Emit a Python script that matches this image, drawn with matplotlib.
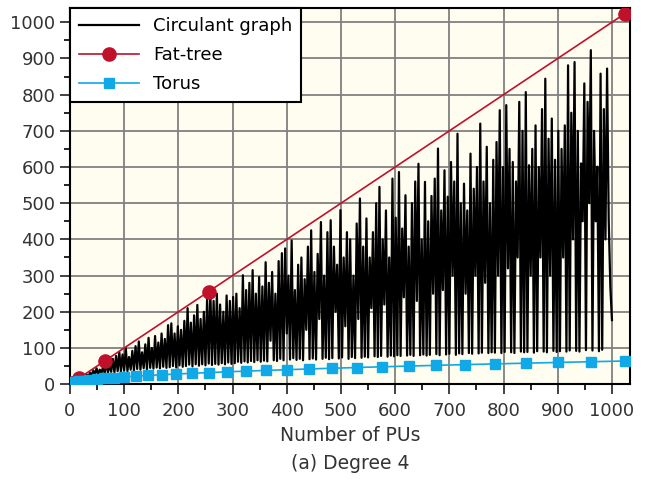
import numpy as np
import matplotlib
matplotlib.use("Agg")
import matplotlib.pyplot as plt
from matplotlib.ticker import MultipleLocator

# circulant graph values, every 3 PUs (4 .. 1000)
circ_n = list(range(4, 1001, 3))
circ_v = [
    4, 10, 6, 14, 9, 18, 12, 22, 15, 26,
    20, 32, 24, 38, 26, 44, 28, 40, 30, 48,
    30, 62, 32, 55, 34, 70, 33, 78, 36, 89,
    35, 82, 38, 99, 36, 75, 40, 92, 38, 105,
    42, 118, 40, 88, 44, 110, 41, 128, 45, 100,
    43, 133, 46, 115, 44, 140, 48, 125, 45, 163,
    47, 168, 50, 140, 46, 160, 52, 150, 48, 175,
    50, 210, 54, 170, 49, 190, 55, 219, 51, 180,
    55, 200, 52, 235, 57, 260, 53, 230, 56, 250,
    54, 220, 58, 200, 55, 245, 60, 230, 56, 241,
    58, 250, 62, 210, 59, 301, 63, 260, 60, 280,
    64, 315, 61, 250, 66, 296, 62, 270, 65, 337,
    63, 280, 120, 310, 66, 250, 64, 340, 70, 362,
    66, 375, 140, 300, 68, 397, 72, 260, 67, 330,
    70, 350, 66, 290, 150, 380, 69, 425, 71, 310,
    68, 360, 180, 448, 70, 300, 73, 420, 69, 453,
    72, 380, 200, 330, 71, 481, 74, 350, 160, 420,
    70, 400, 75, 300, 72, 444, 180, 513, 73, 380,
    76, 458, 74, 350, 210, 420, 77, 500, 75, 545,
    78, 400, 220, 480, 76, 350, 79, 568, 77, 460,
    80, 586, 78, 430, 240, 522, 79, 380, 81, 500,
    78, 560, 230, 609, 80, 400, 82, 559, 79, 450,
    81, 520, 250, 568, 83, 651, 80, 480, 260, 591,
    82, 518, 84, 614, 300, 560, 81, 692, 85, 500,
    83, 554, 250, 480, 86, 637, 84, 540, 300, 600,
    85, 720, 87, 560, 280, 656, 86, 500, 88, 620,
    87, 669, 300, 757, 86, 600, 89, 771, 320, 650,
    88, 614, 86, 560, 350, 780, 90, 700, 88, 807,
    89, 605, 300, 650, 87, 715, 91, 600, 350, 760,
    90, 844, 88, 678, 300, 734, 92, 620, 89, 700,
    91, 650, 350, 715, 90, 881, 93, 750, 400, 890,
    92, 700, 90, 610, 450, 831, 94, 780, 500, 923,
    93, 700, 450, 601, 91, 858, 95, 760, 400, 872,
    453, 270, 177,
]

# fat-tree sizes (4^k)
fat_n = [4, 16, 64, 256, 1024]
fat_v = [4, 16, 64, 256, 1024]

# torus k x k
torus_k = list(range(2, 33))
torus_n = [k * k for k in torus_k]
torus_v = [2 * k for k in torus_k]

fig = plt.figure(figsize=(6.45, 4.79), dpi=100)
ax = fig.add_axes([0.1085, 0.198, 0.868, 0.785])
ax.set_facecolor("#fffdf0")

ax.plot(circ_n, circ_v, color="black", lw=1.6, label="Circulant graph", zorder=3)
ax.plot(fat_n, fat_v, color="#c0112b", lw=1.2, marker="o", ms=9.5,
        label="Fat-tree", zorder=4)
ax.plot(torus_n, torus_v, color="#10a8e6", lw=1.2, marker="s", ms=7,
        label="Torus", zorder=5)

ax.set_xlim(0, 1033)
ax.set_ylim(0, 1039)
ax.xaxis.set_major_locator(MultipleLocator(100))
ax.xaxis.set_minor_locator(MultipleLocator(50))
ax.yaxis.set_major_locator(MultipleLocator(100))
ax.yaxis.set_minor_locator(MultipleLocator(50))
ax.grid(True, which="major", color="#808080", lw=1.3, zorder=0)
ax.tick_params(which="major", direction="out", length=7, width=1.3,
               labelsize=13, colors="#333333")
ax.tick_params(axis="x", which="major", pad=6)
ax.tick_params(which="minor", direction="out", length=4, width=1.2)
for s in ax.spines.values():
    s.set_linewidth(1.5)
    s.set_color("black")

ax.set_xlabel("Number of PUs\n(a) Degree 4", fontsize=13.5, color="#333333",
              linespacing=1.6, labelpad=4)

leg = ax.legend(loc="upper left", fontsize=13, fancybox=False, framealpha=1,
                edgecolor="black", borderaxespad=0, handlelength=3.3,
                borderpad=0.5, labelspacing=0.6)
leg.get_frame().set_linewidth(1.5)
leg.set_zorder(10)

fig.savefig("out.png", dpi=100)
